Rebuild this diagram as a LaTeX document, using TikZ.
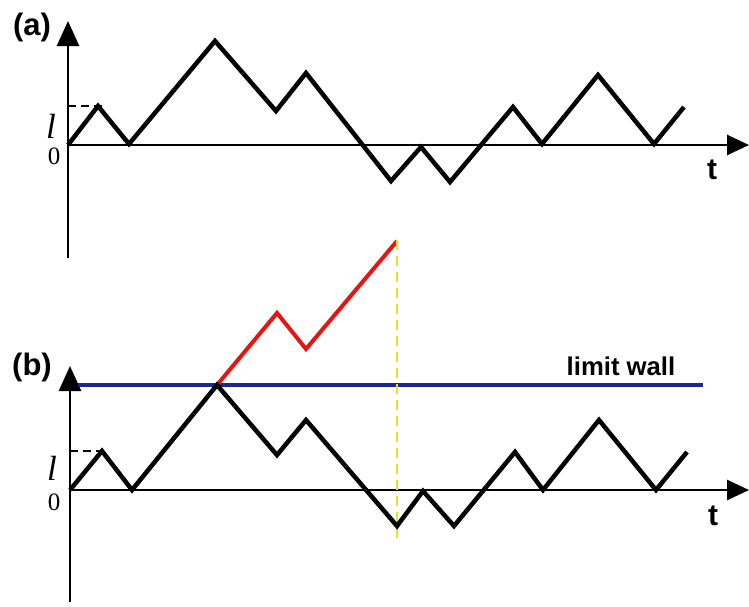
\documentclass[tikz,border=0pt]{standalone}
\usepackage{fontspec}
\setmainfont{Liberation Serif}
\newfontfamily\labelfont{Liberation Sans}
\usetikzlibrary{arrows.meta}
\definecolor{WallBlue}{RGB}{28,40,140}
\definecolor{PathRed}{RGB}{232,20,20}
\definecolor{MarkYellow}{RGB}{226,226,40}

\begin{document}
\begin{tikzpicture}[x=1pt,y=-1pt,
    axisline/.style={line width=2.8pt},
    axisarrow/.style={line width=2.8pt, -{Triangle[length=25pt,width=22pt]}},
    walk/.style={line width=4.5pt},
    levelmark/.style={line width=1.3pt, dash pattern=on 8pt off 5pt},
    panellabel/.style={font=\labelfont\bfseries\fontsize{31}{33}\selectfont, inner sep=0pt},
    ticklabel/.style={inner sep=0pt}]
      \useasboundingbox (0,0) rectangle (749,606);

      % Panel (a)
      % Axes
      \draw[axisarrow] (68,258) -- (68,21);
      \draw[axisline, -{Triangle[length=22pt,width=20pt]}] (68,145) -- (749,145);
      \draw[levelmark] (68,106) -- (106,106);

      % Walk
      \draw[walk] plot coordinates {(68,145) (98,106) (129,144) (215,41) (276,111) (306,73)
        (391,181) (421,147) (450,182) (513,107) (542,144) (598,75) (654,144) (684,107)};

      % Labels
      \node[panellabel] (labA) at (32,27) {(a)};
      \node[panellabel, font=\labelfont\bfseries\fontsize{30}{32}\selectfont] (tA) at (712,170) {t};
      \node[ticklabel, font=\fontsize{35}{36}\selectfont\itshape] (levA) at (51,126) {l};
      \node[ticklabel, font=\fontsize{25}{26}\selectfont] (zeroA) at (54,156) {0};

      % Panel (b)
      % Axes
      \draw[axisarrow] (70,602) -- (70,366);
      \draw[axisline, -{Triangle[length=22pt,width=20pt]}] (70,490) -- (749,490);
      \draw[levelmark] (70,451) -- (108,451);

      % Limit wall
      \draw[WallBlue, line width=3.5pt] (78,385) -- (703,385);
      \node[panellabel, font=\labelfont\bfseries\fontsize{25.7}{28}\selectfont] (wall) at (621,366) {limit wall};

      % Reflected part
      \draw[PathRed, line width=4pt] plot coordinates {(217,385) (277,313) (306,349) (397,241)};
      \draw[MarkYellow, line width=1.8pt, dash pattern=on 10pt off 6pt] (397,240) -- (397,542);

      % Walk
      \draw[walk] plot coordinates {(70,490) (102,451) (132,490) (217,385) (277,455) (306,420)
        (397,526) (423,491) (454,526) (515,452) (543,490) (599,420) (656,490) (687,452)};

      % Labels
      \node[panellabel] (labB) at (32,367) {(b)};
      \node[panellabel, font=\labelfont\bfseries\fontsize{30}{32}\selectfont] (tB) at (713,516) {t};
      \node[ticklabel, font=\fontsize{35}{36}\selectfont\itshape] (levB) at (52,468) {l};
      \node[ticklabel, font=\fontsize{25}{26}\selectfont] (zeroB) at (54,502) {0};
\end{tikzpicture}
\end{document}
